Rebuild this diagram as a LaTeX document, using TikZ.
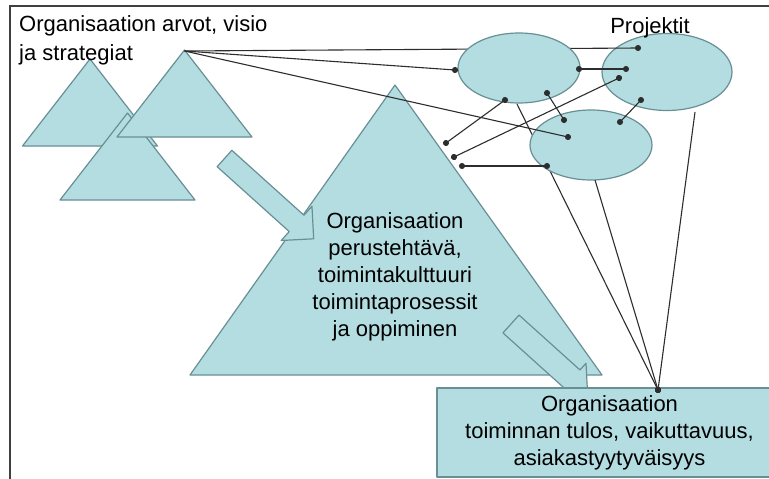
\documentclass[tikz,border=0pt]{standalone}
\usepackage{fontspec}
\setmainfont{Liberation Sans}
\usetikzlibrary{arrows.meta,shapes.geometric}

\definecolor{lightteal}{RGB}{180,221,226}
\definecolor{tealline}{RGB}{104,143,148}
\definecolor{linkgray}{RGB}{45,45,45}

\begin{document}
\begin{tikzpicture}[x=1pt,y=-1pt,>={Circle[length=6pt]},
                    font=\fontsize{22}{27}\selectfont]
  \tikzstyle{tri}=[draw=tealline,fill=lightteal,line width=1.2pt,line join=round]
  \tikzstyle{proj}=[ellipse,draw=tealline,fill=lightteal,line width=1.2pt,inner sep=0pt]
  \tikzstyle{link}=[->,draw=linkgray,line width=1.1pt,shorten >=-3pt]
  \tikzstyle{both}=[<->,draw=linkgray,line width=1.1pt,shorten >=-3pt,shorten <=-3pt]

  \useasboundingbox (0,0) rectangle (769,479);
  \draw[line width=2pt,draw=black!75] (769,6) -- (10,6) -- (10,479);

  % arvot, visio ja strategiat
  \foreach \cx/\ty in {90/59, 127.5/113, 184.5/50}
    \draw[tri] (\cx,\ty) -- ++(67.5,87) -- ++(-135,0) -- cycle;
  \coordinate (arvot) at (184.5,51);

  % perustehtava
  \draw[tri] (395,85) -- (602,375) -- (190,375) -- cycle;
  \begin{scope}[shift={(224.5,158.5)},rotate=-42]
    \draw[tri] (0,-11) -- (97,-11) -- (97,-23) -- (120,0) -- (97,23) -- (97,11) -- (0,11) -- cycle;
  \end{scope}
  \begin{scope}[shift={(511,324)},rotate=-42]
    \draw[tri] (0,-12) -- (82,-12) -- (82,-21) -- (103,0) -- (82,21) -- (82,12) -- (0,12) -- cycle;
  \end{scope}
  \node[align=center] (perus) at (395,277)
    {Organisaation\\perustehtävä,\\toimintakulttuuri\\toimintaprosessit\\ja oppiminen};

  % tulos
  \node[tri,minimum width=345,minimum height=89,inner sep=0pt,align=center] (tulos) at (609.5,432.5)
    {Organisaation\\toiminnan tulos, vaikuttavuus,\\asiakastyytyväisyys};
  \coordinate (tuloskarki) at (658,390);

  % projektit
  \node[proj,minimum width=130,minimum height=77] (p2) at (667,72) {};
  \coordinate (p2in) at (638,48);
  \coordinate (p1b) at (517,104);
  \path (arvot) edge[link] (p2in)
        (p1b) edge[link] (tuloskarki);
  \node[proj,minimum width=122,minimum height=70] (p1) at (519,68) {};
  \node[proj,minimum width=122,minimum height=70] (p3) at (591,145) {};
  \node[anchor=base] (projektit) at (650,33) {Projektit};

  \coordinate (p1w) at (455,70);
  \coordinate (p3in) at (568,137);
  \coordinate (p1s) at (505,100);  \coordinate (t1) at (446,143);
  \coordinate (p2w) at (619,78);   \coordinate (t2) at (454,157);
  \coordinate (p3w) at (547,166);  \coordinate (t3) at (462,166);
  \coordinate (p1e) at (579,69);   \coordinate (p2e) at (626,69);
  \coordinate (p1in) at (547,93);  \coordinate (p3n) at (564,120);
  \coordinate (p2s) at (641,100);  \coordinate (p3ne) at (620,122);
  \coordinate (p3b) at (595,180);  \coordinate (p2b) at (695,112);

  \path (arvot) edge[link] (p1w)
        (arvot) edge[link] (p3in)
        (p1s) edge[both] (t1)
        (p2w) edge[both] (t2)
        (p3w) edge[both] (t3)
        (p1e) edge[both] (p2e)
        (p1in) edge[both] (p3n)
        (p2s) edge[both] (p3ne)
        (p3b) edge[link] (tuloskarki)
        (p2b) edge[link] (tuloskarki);

  \node[anchor=north west,align=left,inner sep=0pt,font=\fontsize{22}{29}\selectfont] (visio) at (19,15)
    {Organisaation arvot, visio\\ja strategiat};
\end{tikzpicture}
\end{document}
